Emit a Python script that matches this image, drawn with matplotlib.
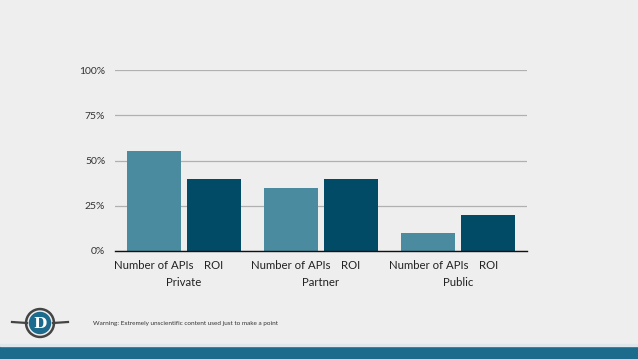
import numpy as np
import matplotlib.pyplot as plt
from matplotlib.patches import Circle, Rectangle

plt.rcParams['font.family'] = ['Lato', 'DejaVu Sans']

# data
groups = ["Private", "Partner", "Public"]
series_names = ["Number of APIs", "ROI"]
num_apis = [55, 35, 10]
roi = [40, 40, 20]
yticks = [0, 25, 50, 75, 100]
ytick_labels = ["0%", "25%", "50%", "75%", "100%"]

bg = "#eeeeee"
light = "#4a8ba0"
dark = "#024b66"
band = "#1c6a8c"

fig = plt.figure(figsize=(6.38, 3.59), dpi=100, facecolor=bg)
W, H = 638, 359
ax = fig.add_axes([115 / W, 1 - 251 / H, 412 / W, 181 / H])
ax.set_facecolor(bg)

x = np.arange(len(groups))
off = 0.218
width = 0.393
ax.bar(x - off, num_apis, width, color=light, zorder=3)
ax.bar(x + off, roi, width, color=dark, zorder=3)

ax.set_xlim(-0.5, 2.5)
ax.set_ylim(0, 100)
ax.set_yticks(yticks)
ax.set_yticklabels(ytick_labels, fontsize=7.5, color="#333333")
ax.tick_params(axis="y", length=0, pad=7)
ax.grid(axis="y", color="#b0b0b0", linewidth=0.9, zorder=0)
for s in ["top", "right", "left"]:
    ax.spines[s].set_visible(False)
ax.spines["bottom"].set_color("#111111")
ax.spines["bottom"].set_linewidth(1.0)
ax.spines["bottom"].set_zorder(4)

# two-level category labels
ax.set_xticks([])
for i, g in enumerate(groups):
    ax.text(i - off, -5, series_names[0], ha="center", va="top", fontsize=8.2, color="#222222")
    ax.text(i + off, -5, series_names[1], ha="center", va="top", fontsize=8.2, color="#222222")
    ax.text(i, -14.5, g, ha="center", va="top", fontsize=8.2, color="#222222")

# bottom band
fig.patches.append(Rectangle((0, 0), 1, 13 / H, transform=fig.transFigure, color=band, zorder=1))
fig.patches.append(Rectangle((0, 13 / H), 1, 2 / H, transform=fig.transFigure, color="#dde7ec", zorder=1))

# logo
lax = fig.add_axes([0, 0, 1, 1], facecolor="none")
lax.set_xlim(0, W)
lax.set_ylim(H, 0)
lax.axis("off")
lax.plot([12, 27], [322, 323], color="#444444", lw=1.6)
lax.plot([53, 68], [323, 322], color="#444444", lw=1.6)
lax.add_patch(Circle((40, 323), 14.5, color="#444444"))
lax.add_patch(Circle((40, 323), 12, color=bg))
lax.add_patch(Circle((40, 323), 10.5, color=band))
lax.text(40, 323.5, "D", ha="center", va="center", fontsize=11, fontweight="bold",
         family="DejaVu Serif", color="white")

fig.text(93 / W, 1 - 323 / H, "Warning: Extremely unscientific content used just to make a point",
         fontsize=4.6, color="#333333", va="center")

fig.savefig("out.png", dpi=100, facecolor=bg)
